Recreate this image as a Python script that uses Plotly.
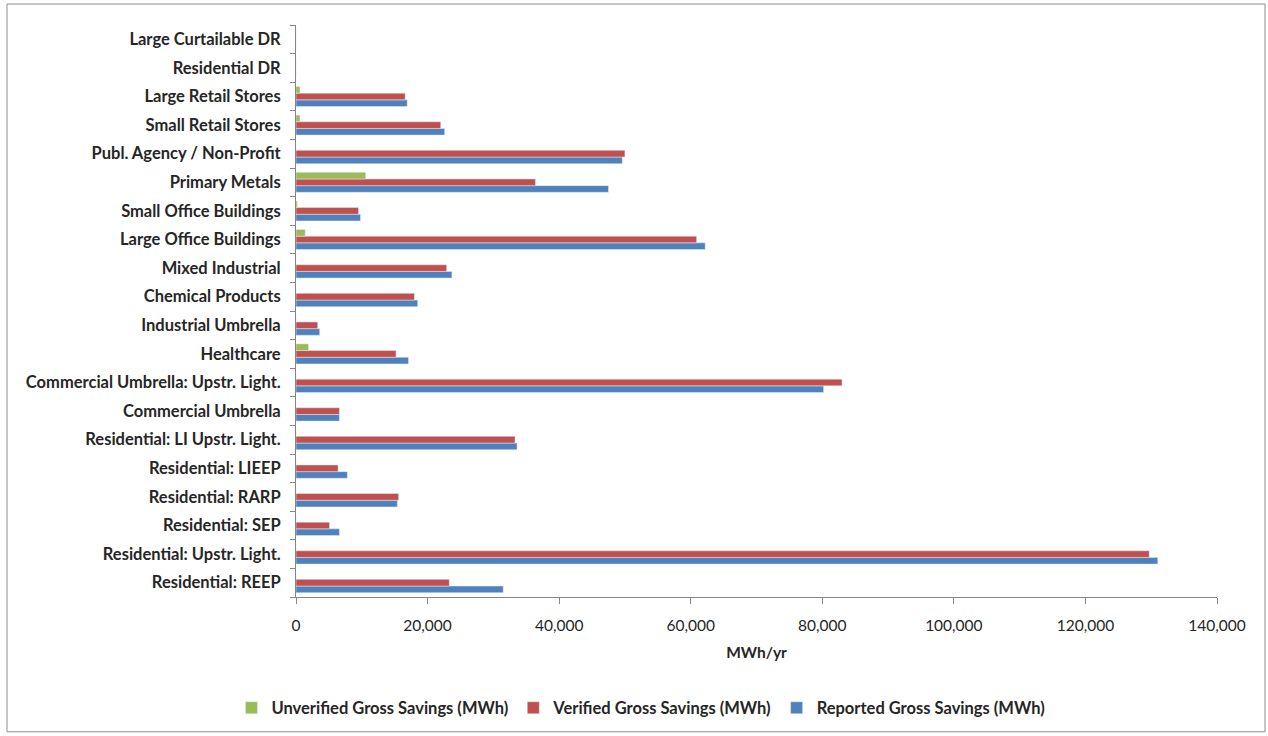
import plotly.graph_objects as go

# Categories listed bottom-to-top (as plotted)
categories = [
    "Residential: REEP",
    "Residential: Upstr. Light.",
    "Residential: SEP",
    "Residential: RARP",
    "Residential: LIEEP",
    "Residential: LI Upstr. Light.",
    "Commercial Umbrella",
    "Commercial Umbrella: Upstr. Light.",
    "Healthcare",
    "Industrial Umbrella",
    "Chemical Products",
    "Mixed Industrial",
    "Large Office Buildings",
    "Small Office Buildings",
    "Primary Metals",
    "Publ. Agency / Non-Profit",
    "Small Retail Stores",
    "Large Retail Stores",
    "Residential DR",
    "Large Curtailable DR",
]

reported = [31500, 131000, 6600, 15400, 7800, 33600, 6600, 80200, 17100, 3600,
            18500, 23700, 62200, 9800, 47500, 49600, 22600, 16900, 0, 0]
verified = [23300, 129700, 5100, 15600, 6400, 33300, 6600, 83000, 15200, 3300,
            18000, 22900, 60900, 9500, 36400, 50000, 22000, 16600, 0, 0]
unverified = [0, 0, 0, 0, 0, 0, 0, 0, 1900, 0,
              0, 0, 1400, 200, 10600, 0, 600, 600, 0, 0]

x_ticks = [0, 20000, 40000, 60000, 80000, 100000, 120000, 140000]

FONT = "Lato"
AXIS_GRAY = "#868686"
TEXT = "#262626"

fig = go.Figure()
fig.add_trace(go.Bar(y=categories, x=reported, orientation="h",
                     name="Reported Gross Savings (MWh)", marker_color="#4F81BD"))
fig.add_trace(go.Bar(y=categories, x=verified, orientation="h",
                     name="Verified Gross Savings (MWh)", marker_color="#C0504D"))
fig.add_trace(go.Bar(y=categories, x=unverified, orientation="h",
                     name="Unverified Gross Savings (MWh)", marker_color="#9BBB59"))

W, H = 1268, 736
L, R, T, B = 296, 51, 25, 138
pw, ph = W - L - R, H - T - B

def px(x):
    return (x - L) / pw

def py(y):
    return (H - B - y) / ph

fig.update_layout(
    width=W, height=H,
    margin=dict(l=L, r=R, t=T, b=B, pad=0),
    paper_bgcolor="white", plot_bgcolor="white",
    barmode="group", bargap=0.3, bargroupgap=0,
    font=dict(family=FONT, color=TEXT),
    showlegend=True,
    legend=dict(orientation="h", traceorder="reversed",
                x=px(641), xanchor="center", y=py(708), yanchor="middle",
                font=dict(family=FONT, size=16.5, color=TEXT, weight="bold"),
                itemwidth=30, bgcolor="rgba(0,0,0,0)"),
    xaxis=dict(range=[0, 140000], tickvals=x_ticks, tickformat=",",
               showline=True, linecolor=AXIS_GRAY, linewidth=1,
               ticks="outside", ticklen=6, tickcolor=AXIS_GRAY,
               showgrid=False, zeroline=False, automargin=False,
               tickfont=dict(family=FONT, size=15.5, color=TEXT),
               ticklabelstandoff=8,
               title=dict(text="MWh/yr", standoff=14,
                          font=dict(family=FONT, size=15.5, color=TEXT, weight="bold"))),
    yaxis=dict(type="category", categoryorder="array", categoryarray=categories,
               showline=True, linecolor=AXIS_GRAY, linewidth=1,
               ticks="outside", ticklen=5, tickcolor=AXIS_GRAY,
               tickson="boundaries", showgrid=False, zeroline=False,
               automargin=False, ticklabelstandoff=11,
               tickfont=dict(family=FONT, size=16.5, color=TEXT, weight="bold")),
    shapes=[dict(type="rect", xref="paper", yref="paper",
                 x0=px(7), x1=px(1265), y0=py(733), y1=py(4),
                 line=dict(color="#8C8C8C", width=1), fillcolor="rgba(0,0,0,0)")],
)

fig.write_html("out.html")
